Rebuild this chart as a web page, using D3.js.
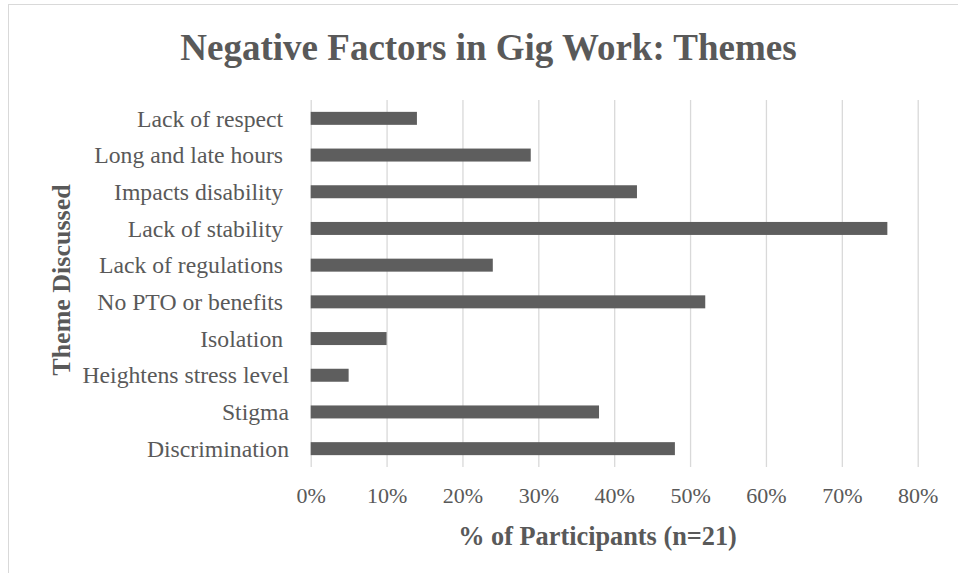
<!DOCTYPE html>
<html>
<head>
<meta charset="utf-8">
<script src="https://cdn.jsdelivr.net/npm/d3@7"></script>
<style>
  html, body { margin: 0; padding: 0; background: #ffffff; }
  svg { display: block; }
  text { font-family: "Liberation Serif", "Times New Roman", serif; fill: #595959; }
</style>
</head>
<body>
<script>
// ---- data ----
const categories = [
  "Lack of respect ",
  "Long and late hours ",
  "Impacts disability ",
  "Lack of stability ",
  "Lack of regulations ",
  "No PTO or benefits ",
  "Isolation ",
  "Heightens stress level",
  "Stigma",
  "Discrimination"
];
const values = [0.14, 0.29, 0.43, 0.76, 0.24, 0.52, 0.10, 0.05, 0.38, 0.48];
const xTicks = [0, 0.1, 0.2, 0.3, 0.4, 0.5, 0.6, 0.7, 0.8];
const titleText = "Negative Factors in Gig Work: Themes";
const xTitle = "% of Participants (n=21)";
const yTitle = "Theme Discussed";

// ---- layout ----
const W = 958, H = 573;
const plot = { left: 310.7, right: 917.7, top: 100, bottom: 467 };

const svg = d3.select("body").append("svg")
  .attr("width", W).attr("height", H);

// chart border
svg.append("rect")
  .attr("x", 8.5).attr("y", 4.5)
  .attr("width", 980).attr("height", 600)
  .attr("fill", "none").attr("stroke", "#d9d9d9").attr("stroke-width", 1);

const x = d3.scaleLinear().domain([0, 0.8]).range([plot.left, plot.right]);
const y = d3.scaleBand().domain(categories)
  .range([plot.top, plot.bottom])
  .paddingInner(0.646).paddingOuter(0.323);

// gridlines + x axis labels
const xAxis = d3.axisBottom(x)
  .tickValues(xTicks)
  .tickFormat(d3.format(".0%"))
  .tickSize(-(plot.bottom - plot.top))
  .tickPadding(0);
const gx = svg.append("g")
  .attr("transform", `translate(0,${plot.bottom})`)
  .call(xAxis);
gx.select(".domain").remove();
gx.selectAll(".tick line").attr("stroke", "#d9d9d9").attr("stroke-width", 1.3);
gx.selectAll(".tick text")
  .attr("y", 35.5).attr("dy", 0)
  .attr("font-size", 22)
  .style("font-family", "'Liberation Serif', 'Times New Roman', serif")
  .attr("fill", "#595959");

// bars
svg.append("g").selectAll("rect")
  .data(categories.map((c, i) => ({ c, v: values[i] })))
  .join("rect")
  .attr("x", x(0))
  .attr("y", d => y(d.c))
  .attr("width", d => x(d.v) - x(0))
  .attr("height", y.bandwidth())
  .attr("fill", "#5e5e5e");

// y axis labels
const yAxis = d3.axisLeft(y).tickSize(0).tickPadding(21.7);
const gy = svg.append("g")
  .attr("transform", `translate(${plot.left},0)`)
  .call(yAxis);
gy.select(".domain").remove();
gy.selectAll(".tick text")
  .attr("dy", 8.2)
  .attr("font-size", 23.7)
  .attr("xml:space", "preserve")
  .style("white-space", "pre")
  .style("font-family", "'Liberation Serif', 'Times New Roman', serif")
  .attr("fill", "#595959");

// title
svg.append("text")
  .attr("x", 488.5).attr("y", 60)
  .attr("text-anchor", "middle")
  .attr("font-size", 37).attr("font-weight", "bold")
  .text(titleText);

// x axis title
svg.append("text")
  .attr("x", 597.5).attr("y", 545)
  .attr("text-anchor", "middle")
  .attr("font-size", 26.3).attr("font-weight", "bold")
  .text(xTitle);

// y axis title
svg.append("text")
  .attr("transform", `translate(70,280) rotate(-90)`)
  .attr("text-anchor", "middle")
  .attr("font-size", 26).attr("font-weight", "bold")
  .text(yTitle);
</script>
</body>
</html>
